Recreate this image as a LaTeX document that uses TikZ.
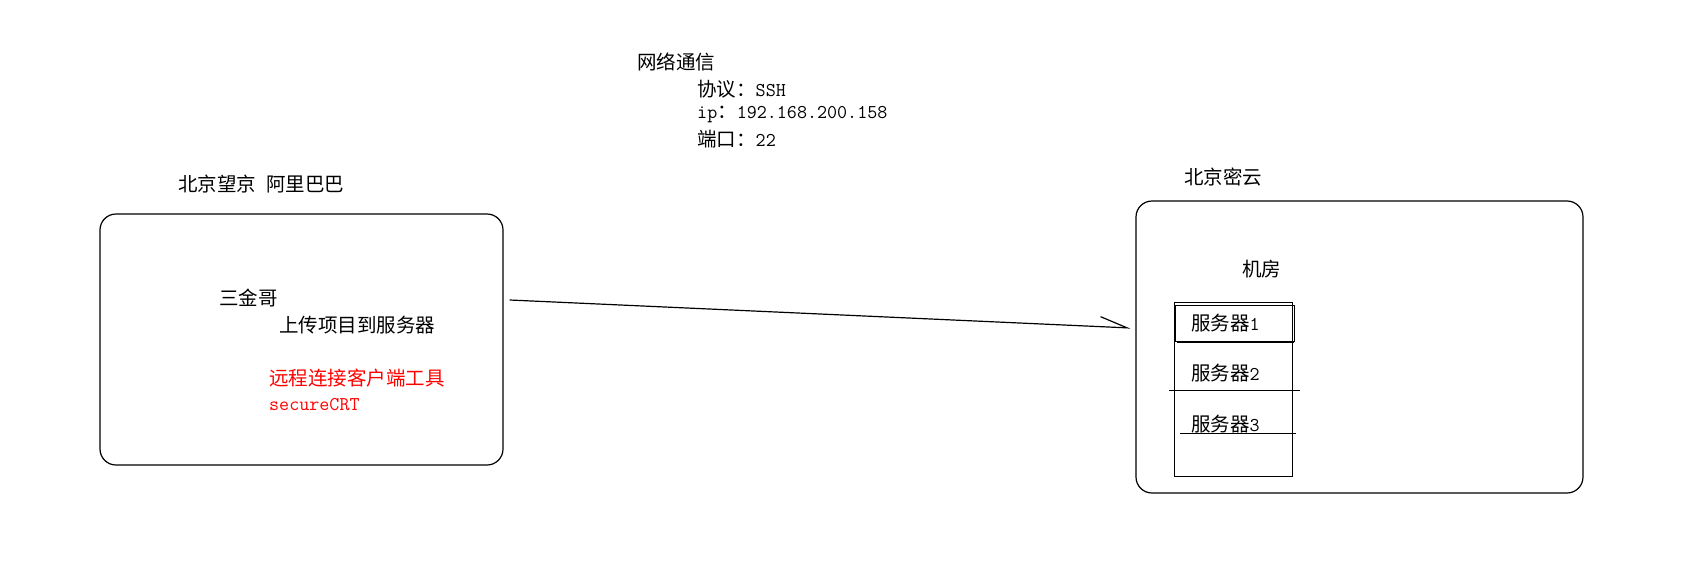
\documentclass[tikz,border=0pt]{standalone}
\usepackage{fontspec}
\setmainfont{Noto Sans CJK SC}
\newfontfamily\latmono{Latin Modern Mono}[Scale=1.0]
\usetikzlibrary{arrows.meta}
\newcommand{\lat}[1]{{\latmono #1}}

\begin{document}
\begin{tikzpicture}[x=1pt,y=-1pt,font=\fontsize{19.5}{25}\selectfont,
        txt/.style={anchor=west,inner sep=0pt},
        site/.style={draw,line width=1.2pt,rounded corners=16pt,inner sep=0pt},
        rackline/.style={line width=1.0pt},
        link/.style={line width=1.2pt,-{Straight Barb[left,length=27pt,width=20pt]}}]
    \useasboundingbox (0,0) rectangle (1684,573);
    % network info
    \node[txt] (net) at (637,62) {网络通信};
    \node[txt] (proto) at (697,89) {协议：\lat{SSH}};
    \node[txt] (ip) at (697,114) {\lat{ip}：\lat{192.168.200.158}};
    \node[txt] (port) at (697,139) {端口：\lat{22}};
    % client side
    \node[txt] (wjname) at (178,184) {北京望京\hspace{10pt}阿里巴巴};
    \node[site,minimum width=403pt,minimum height=251pt] (wj) at (301.5,339.5) {};
    \node[txt] (user) at (219,298) {三金哥};
    \node[txt] (upload) at (279,325) {上传项目到服务器};
    \node[txt,red] (tool) at (269,378) {远程连接客户端工具};
    \node[txt,red] (crt) at (269,405) {\lat{secureCRT}};
    % server side
    \node[txt] (myname) at (1184,177) {北京密云};
    \node[site,minimum width=447pt,minimum height=292pt] (my) at (1359.5,347) {};
    \node[txt] (room) at (1242,269) {机房};
    \node[draw,rackline,minimum width=118pt,minimum height=174pt,inner sep=0pt] (rack) at (1233,389) {};
    \node[draw,rackline,minimum width=119pt,minimum height=36pt,inner sep=0pt] (box1) at (1234.5,323) {};
    \draw[rackline] (1177,342) -- (1294,342); \draw[rackline] (1169,390) -- (1300,390); \draw[rackline] (1180,433) -- (1296,433);
    \node[txt] (srv1) at (1191,323) {服务器\lat{1}};
    \node[txt] (srv2) at (1191,373) {服务器\lat{2}};
    \node[txt] (srv3) at (1191,424) {服务器\lat{3}};
    % connection
    \draw[link] ([xshift=6pt,yshift=39.5pt]wj.east) -- ([xshift=-5pt,yshift=19pt]my.west);
\end{tikzpicture}
\end{document}
